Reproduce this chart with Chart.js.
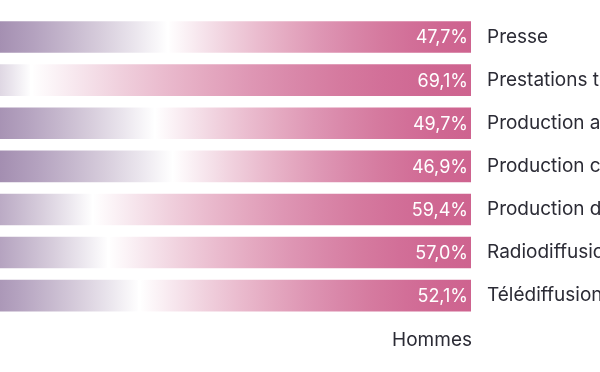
<!DOCTYPE html>
<html lang="fr">
<head>
<meta charset="utf-8">
<title>Femmes / Hommes par secteur</title>
<script src="https://cdn.jsdelivr.net/npm/chart.js@4/dist/chart.umd.min.js"></script>
<style>
  html, body { margin: 0; padding: 0; background: #fff; overflow: hidden; }
  #zone { width: 600px; height: 372px; }
</style>
</head>
<body>
<div id="zone"><canvas id="graphique"></canvas></div>
<script>
// Secteurs (axe de droite)
var secteurs = [
    "Presse",
    "Prestations techniques",
    "Production audiovisuelle",
    "Production cinématographique",
    "Production de films d'animation",
    "Radiodiffusion",
    "Télédiffusion"
];

// Part des hommes et des femmes (%)
var hommes = [47.7, 69.1, 49.7, 46.9, 59.4, 57.0, 52.1];
var femmes = [52.3, 30.9, 50.3, 53.1, 40.6, 43.0, 47.9];

// Couleurs des extremites
var violet = [121, 89, 140];
var rose = [206, 99, 143];

// Degrade blanc -> couleur, courbe adoucie
function melange(c, d) {
    var r = Math.round(255 - d * (255 - c[0]));
    var g = Math.round(255 - d * (255 - c[1]));
    var b = Math.round(255 - d * (255 - c[2]));
    return 'rgb(' + r + ',' + g + ',' + b + ')';
}

function degrade(ctx, x0, x1, couleur, versBlanc) {
    var grad = ctx.createLinearGradient(x0, 0, x1, 0);
    for (var i = 0; i <= 10; i++) {
        var t = i / 10;
        // f = distance au blanc (0 a la frontiere)
        var f = versBlanc ? 1 - t : t;
        var d = 1 - Math.pow(1 - f, 1.6);
        grad.addColorStop(t, melange(couleur, d));
    }
    return grad;
}

function fondFemmes(context) {
    var chart = context.chart;
    if (!chart.chartArea) return 'rgb(' + violet.join(',') + ')';
    var x = chart.scales.x;
    var debut = x.getPixelForValue(0);
    var frontiere = x.getPixelForValue(femmes[context.dataIndex]);
    return degrade(chart.ctx, debut, frontiere, violet, true);
}

function fondHommes(context) {
    var chart = context.chart;
    if (!chart.chartArea) return 'rgb(' + rose.join(',') + ')';
    var x = chart.scales.x;
    var frontiere = x.getPixelForValue(femmes[context.dataIndex]);
    var fin = x.getPixelForValue(100);
    return degrade(chart.ctx, frontiere, fin, rose, false);
}

// Etiquettes de pourcentage dans les barres des hommes
var etiquettes = {
    id: 'etiquettes',
    afterDatasetsDraw: function(chart) {
        var ctx = chart.ctx;
        var meta = chart.getDatasetMeta(1);
        ctx.save();
        ctx.fillStyle = '#ffffff';
        ctx.font = '18px Inter, "Noto Sans", sans-serif';
        ctx.textAlign = 'right';
        ctx.textBaseline = 'middle';
        for (let i = 0; i < meta.data.length; i++) {
            let barre = meta.data[i];
            let texte = hommes[i].toFixed(1).replace('.', ',') + '%';
            ctx.fillText(texte, barre.x - 4, barre.y + 1);
        }
        ctx.restore();
    }
};

new Chart(document.getElementById('graphique'), {
    type: 'bar',
    data: {
        labels: secteurs,
        datasets: [
            {
                label: 'Femmes',
                data: femmes,
                backgroundColor: fondFemmes,
                borderColor: 'rgba(255,255,255,0.45)',
                borderWidth: 1,
                borderSkipped: false
            },
            {
                label: 'Hommes',
                data: hommes,
                backgroundColor: fondHommes,
                borderColor: 'rgba(255,255,255,0.45)',
                borderWidth: 1,
                borderSkipped: false
            }
        ]
    },
    options: {
        indexAxis: 'y',
        responsive: true,
        maintainAspectRatio: false,
        animation: false,
        layout: { padding: { top: 15.5, bottom: 20, left: 0, right: 0 } },
        datasets: { bar: { categoryPercentage: 1, barPercentage: 0.78 } },
        plugins: {
            legend: { display: false },
            tooltip: { enabled: false }
        },
        scales: {
            x: {
                stacked: true,
                min: 26,
                max: 100,
                grid: { display: false },
                border: { display: false },
                ticks: { display: false },
                title: {
                    display: true,
                    text: 'Hommes',
                    align: 'end',
                    color: '#2b2b35',
                    font: { family: 'Inter', size: 19 },
                    padding: { top: 4, bottom: 0 }
                }
            },
            y: {
                stacked: true,
                position: 'right',
                grid: { display: false, drawTicks: false },
                border: { display: false },
                ticks: {
                    color: '#2b2b35',
                    padding: 15,
                    font: { family: 'Inter', size: 19 }
                },
                afterFit: function(scale) {
                    scale.width = 128;
                    scale.paddingTop = 0;
                    scale.paddingBottom = 0;
                }
            }
        }
    },
    plugins: [etiquettes]
});
</script>
</body>
</html>
